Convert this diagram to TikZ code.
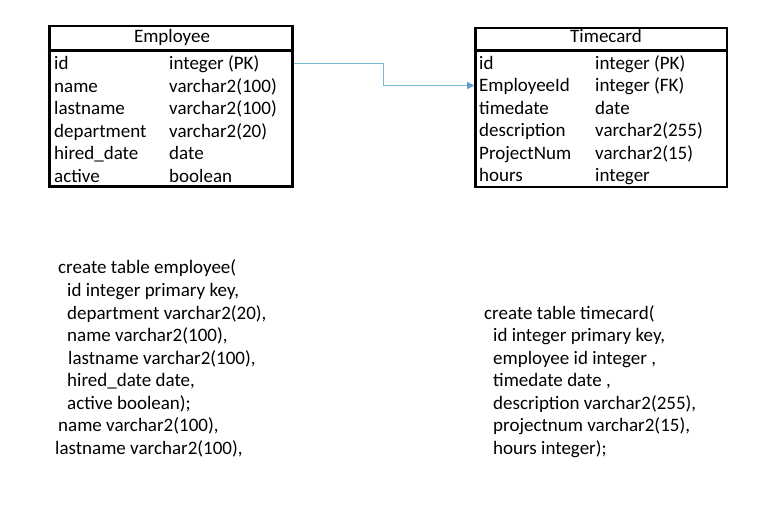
\documentclass[tikz,border=0pt]{standalone}
\usepackage{fontspec}
\setmainfont{Carlito}
\usetikzlibrary{arrows.meta}
\definecolor{linkblue}{RGB}{115,190,205}
\definecolor{tipblue}{RGB}{95,155,205}

\begin{document}
\begin{tikzpicture}[x=1bp,y=-1bp,>={Triangle[length=7bp,width=7bp,color=tipblue]},
        font=\fontsize{19bp}{22.5bp}\selectfont,
        tablebox/.style={draw,line width=2.6bp,inner sep=0pt},
        tabletitle/.style={inner sep=0pt,anchor=base},
        fieldname/.style={inner sep=0pt,anchor=west,text height=14bp,text depth=1bp},
        sqlline/.style={inner sep=0pt,anchor=base west},
        link/.style={draw=linkblue,line width=1bp,->}]
        \useasboundingbox (0,0) rectangle (770,508);

        % Employee table
        \node[tablebox,minimum width=243.5bp,minimum height=160.75bp] (employee) at (171,106.4) {};
        \node[tabletitle] (emptitle) at (172,43) {Employee};
        \draw[line width=3bp] (employee.west |- 0,50.8) -- (employee.east |- 0,50.8);
        \node[fieldname] (empid) at (54,63.5) {id};
        \node[fieldname] (empidtype) at (169,63.5) {integer (PK)};
        \node[fieldname] (empname) at (54,86) {name};
        \node[fieldname] (empnametype) at (169,86) {varchar2(100)};
        \node[fieldname] (emplast) at (54,108.5) {lastname};
        \node[fieldname] (emplasttype) at (169,108.5) {varchar2(100)};
        \node[fieldname] (empdept) at (54,131) {department};
        \node[fieldname] (empdepttype) at (169,131) {varchar2(20)};
        \node[fieldname] (emphired) at (54,153.5) {hired\_date};
        \node[fieldname] (emphiredtype) at (169,153.5) {date};
        \node[fieldname] (empactive) at (54,176) {active};
        \node[fieldname] (empactivetype) at (169,176) {boolean};

        % Timecard table
        \node[tablebox,minimum width=251.5bp,minimum height=159bp] (timecard) at (601.25,107.5) {};
        \node[tabletitle] (tctitle) at (606,43) {Timecard};
        \draw[line width=3bp] (timecard.west |- 0,50.8) -- (timecard.east |- 0,50.8);
        \node[fieldname] (tcid) at (479,63) {id};
        \node[fieldname] (tcidtype) at (595,63) {integer (PK)};
        \node[fieldname] (tcempid) at (479,85.5) {EmployeeId};
        \node[fieldname] (tcempidtype) at (595,85.5) {integer (FK)};
        \node[fieldname] (tcdate) at (479,108) {timedate};
        \node[fieldname] (tcdatetype) at (595,108) {date};
        \node[fieldname] (tcdesc) at (479,130.5) {description};
        \node[fieldname] (tcdesctype) at (595,130.5) {varchar2(255)};
        \node[fieldname] (tcproj) at (479,153) {ProjectNum};
        \node[fieldname] (tcprojtype) at (595,153) {varchar2(15)};
        \node[fieldname] (tchours) at (479,175.5) {hours};
        \node[fieldname] (tchourstype) at (595,175.5) {integer};

        \coordinate (bend) at (383,0);
        \draw[link] (employee.east |- empid) -- (bend |- empid) -- (bend |- tcempid) -- (timecard.west |- tcempid);

        % create statements
        \node[sqlline] (esql1) at (58,274) {create table employee(};
        \node[sqlline] (esql2) at (67,296.5) {id integer primary key,};
        \node[sqlline] (esql3) at (67,319) {department varchar2(20),};
        \node[sqlline] (esql4) at (67,341.5) {name varchar2(100),};
        \node[sqlline] (esql5) at (68,364) {lastname varchar2(100),};
        \node[sqlline] (esql6) at (67,386.5) {hired\_date date,};
        \node[sqlline] (esql7) at (67,409) {active boolean);};
        \node[sqlline] (esql8) at (58,431.5) {name varchar2(100),};
        \node[sqlline] (esql9) at (55,454) {lastname varchar2(100),};

        \node[sqlline] (tsql1) at (484,319) {create table timecard(};
        \node[sqlline] (tsql2) at (493,341.5) {id integer primary key,};
        \node[sqlline] (tsql3) at (493,364) {employee id integer ,};
        \node[sqlline] (tsql4) at (493,386.5) {timedate date ,};
        \node[sqlline] (tsql5) at (493,409) {description varchar2(255),};
        \node[sqlline] (tsql6) at (493,431.5) {projectnum varchar2(15),};
        \node[sqlline] (tsql7) at (493,454) {hours integer);};
      \end{tikzpicture}
\end{document}
